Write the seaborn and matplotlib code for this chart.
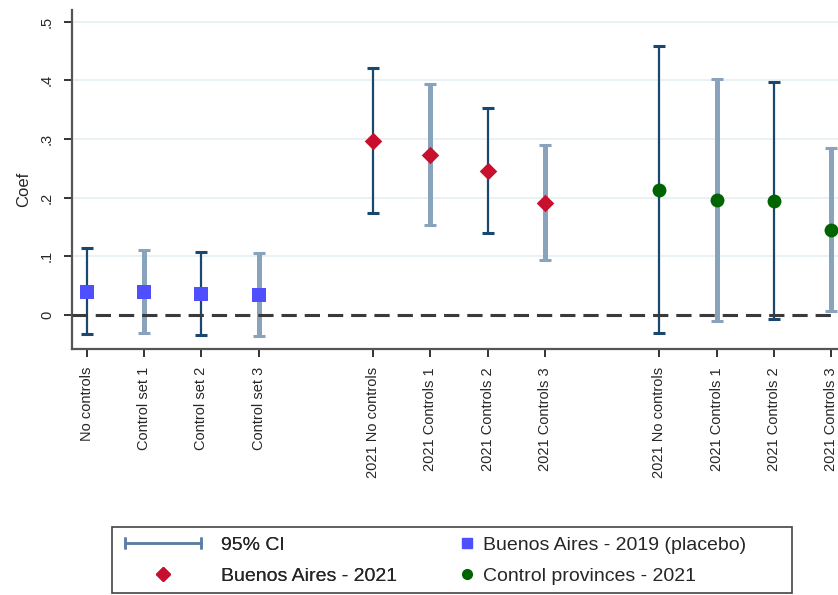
import matplotlib
matplotlib.use("Agg")
import matplotlib.pyplot as plt
from matplotlib.lines import Line2D
from matplotlib.legend_handler import HandlerLine2D
from matplotlib.patches import Rectangle
import seaborn as sns
import pandas as pd

# Specification labels, one group per sample
placebo_labels = ["No controls", "Control set 1", "Control set 2", "Control set 3"]
ba21_labels = ["2021 No controls", "2021 Controls 1", "2021 Controls 2", "2021 Controls 3"]
ctrl21_labels = ["2021 No controls", "2021 Controls 1", "2021 Controls 2", "2021 Controls 3"]

# Point estimates and 95% confidence bounds
placebo_coef = [0.039, 0.039, 0.036, 0.034]
placebo_lo = [-0.032, -0.031, -0.034, -0.036]
placebo_hi = [0.114, 0.111, 0.108, 0.106]

ba21_coef = [0.297, 0.273, 0.246, 0.191]
ba21_lo = [0.174, 0.154, 0.140, 0.094]
ba21_hi = [0.421, 0.394, 0.353, 0.290]

ctrl21_coef = [0.213, 0.196, 0.195, 0.145]
ctrl21_lo = [-0.031, -0.010, -0.006, 0.006]
ctrl21_hi = [0.459, 0.403, 0.398, 0.285]

series_names = ["Buenos Aires - 2019 (placebo)", "Buenos Aires - 2021", "Control provinces - 2021"]
y_ticks = [0, 0.1, 0.2, 0.3, 0.4, 0.5]
y_tick_labels = ["0", ".1", ".2", ".3", ".4", ".5"]

groups = [
    (series_names[0], placebo_labels, placebo_coef, placebo_lo, placebo_hi),
    (series_names[1], ba21_labels, ba21_coef, ba21_lo, ba21_hi),
    (series_names[2], ctrl21_labels, ctrl21_coef, ctrl21_lo, ctrl21_hi),
]

rows = []
for g, (name, labels, coef, lo, hi) in enumerate(groups):
    for j in range(len(labels)):
        rows.append({"series": name, "label": labels[j], "pos": g * 5 + j + 1,
                     "coef": coef[j], "lo": lo[j], "hi": hi[j], "k": j})
df = pd.DataFrame(rows)

sns.set_theme(style="white")
plt.rcParams["font.family"] = ["Liberation Sans", "DejaVu Sans"]

fig = plt.figure(figsize=(8.38, 5.95), dpi=100)
ax = fig.add_axes([72 / 838, 1 - 349 / 595, 1 - 72 / 838, (349 - 10) / 595])

dark_ci = "#1a476f"
light_ci = "#8aa3bd"

# light grid at the tick values above zero
for yv in y_ticks[1:]:
    ax.axhline(yv, color="#e8f0f3", lw=1.3, zorder=0)

# confidence intervals: alternating thin dark and thick light caps
for _, r in df.iterrows():
    thick = r["k"] % 2 == 1
    col = light_ci if thick else dark_ci
    lw = 3.6 if thick else 1.6
    ax.errorbar(r["pos"], r["coef"], yerr=[[r["coef"] - r["lo"]], [r["hi"] - r["coef"]]],
                fmt="none", ecolor=col, elinewidth=lw, capsize=4.5, capthick=2.2, zorder=2)

ax.axhline(0, color="#3a3a3a", lw=2.2, ls=(0, (5, 2.6)), zorder=3)

palette = {series_names[0]: "#4f4fff", series_names[1]: "#c8102e", series_names[2]: "#006400"}
markers = {series_names[0]: "s", series_names[1]: "D", series_names[2]: "o"}
sizes = {series_names[0]: 95, series_names[1]: 80, series_names[2]: 100}
for name in series_names:
    sub = df[df["series"] == name]
    sns.scatterplot(data=sub, x="pos", y="coef", color=palette[name], marker=markers[name],
                    s=sizes[name], linewidth=0, ax=ax, zorder=4, legend=False)

ax.set_xlim(0.74, 14.12)
ax.set_ylim(-0.058, 0.52)
ax.set_xticks(df["pos"].tolist())
ax.set_xticklabels(df["label"].tolist(), rotation=90, fontsize=10.5, va="top")
ax.set_yticks(y_ticks)
ax.set_yticklabels(y_tick_labels, rotation=90, fontsize=10.5, va="center")
ax.set_xlabel("")
ax.set_ylabel("Coef", fontsize=12, labelpad=6)
ax.yaxis.set_label_coords(-0.053, 0.47)
ax.tick_params(axis="both", which="both", direction="out", length=6, width=1.4,
               color="#333333", bottom=True, left=True, pad=7)
for side in ["top", "right"]:
    ax.spines[side].set_visible(False)
for side in ["left", "bottom"]:
    ax.spines[side].set_color("#555555")
    ax.spines[side].set_linewidth(1.6)

# legend, framed across the bottom of the figure
ci_handle = Line2D([0], [0], color="#5b7fa3", lw=1.8, marker="|", markersize=9, markeredgewidth=1.8)
ba21_handle = Line2D([0], [0], ls="none", marker="D", color=palette[series_names[1]], markersize=7)
placebo_handle = Line2D([0], [0], ls="none", marker="s", color=palette[series_names[0]], markersize=6.5)
ctrl_handle = Line2D([0], [0], ls="none", marker="o", color=palette[series_names[2]], markersize=7)

leg_font = 14
leg1 = fig.legend([ci_handle, ba21_handle], ["95% CI", series_names[1]],
                  handler_map={ci_handle: HandlerLine2D(numpoints=2)},
                  loc="center left", bbox_to_anchor=(119 / 838, 1 - 560.5 / 595),
                  frameon=False, fontsize=leg_font, handlelength=4.5, handletextpad=0.75,
                  labelspacing=0.7, borderpad=0, borderaxespad=0)
fig.add_artist(leg1)
leg2 = fig.legend([placebo_handle, ctrl_handle], [series_names[0], series_names[2]],
                  loc="center left", bbox_to_anchor=(458 / 838, 1 - 560.5 / 595),
                  frameon=False, fontsize=leg_font, handlelength=0.95, handletextpad=0.35,
                  labelspacing=0.7, borderpad=0, borderaxespad=0)
fig.add_artist(Rectangle((112 / 838, 1 - 593 / 595), (792 - 112) / 838, (593 - 527) / 595,
                         transform=fig.transFigure, fill=False, edgecolor="#444444", lw=1.2))

fig.savefig("out.png", dpi=100)
